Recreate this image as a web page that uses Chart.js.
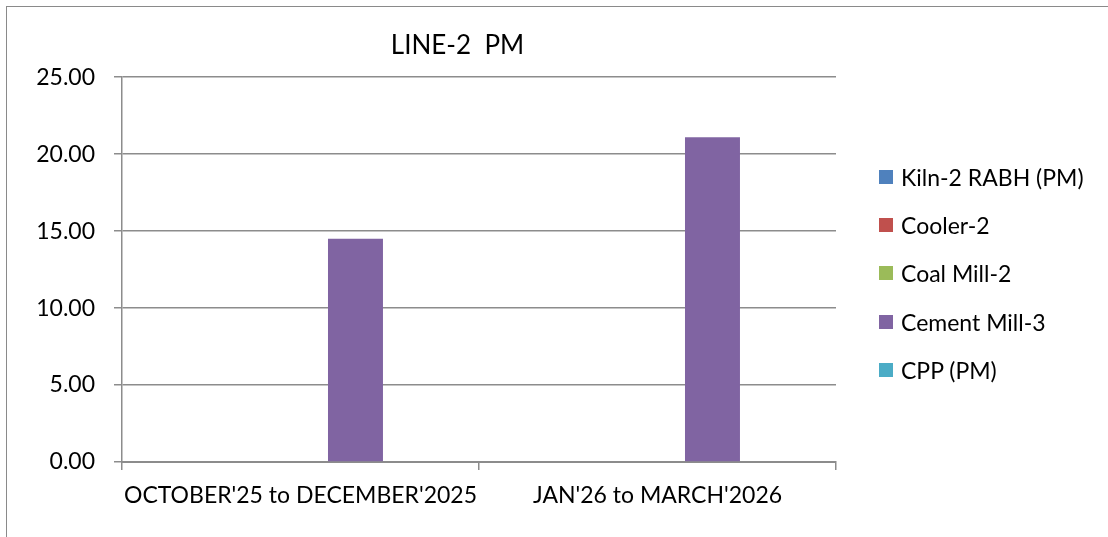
<!DOCTYPE html>
<html lang="en">
<head>
    <meta charset="UTF-8">
    <title>LINE-2 PM</title>
    <script src="https://cdn.jsdelivr.net/npm/chart.js"></script>
    <style>
        body { margin: 0; background: #fff; font-family: Lato, sans-serif; }
        #frame { position: absolute; left: 6px; top: 6px; width: 1120px; height: 560px; border-top: 1.5px solid #8a8a8a; border-left: 1.5px solid #8a8a8a; }
        #wrap { position: absolute; left: 0; top: 0; width: 915px; height: 537px; }
        #legend { position: absolute; left: 879px; top: 0; font-size: 23px; color: #000; }
        .item { position: absolute; left: 0; white-space: nowrap; display: flex; align-items: center; height: 26px; }
        .box { width: 14px; height: 14px; margin-right: 8px; }
    </style>
</head>
<body>
    <div id="frame"></div>
    <div id="wrap"><canvas id="chart"></canvas></div>
    <div id="legend"></div>

    <script>
        // data
        const categories = ["OCTOBER'25 to DECEMBER'2025", "JAN'26 to MARCH'2026"];
        const seriesNames = ['Kiln-2 RABH (PM)', 'Cooler-2', 'Coal Mill-2', 'Cement Mill-3', 'CPP (PM)'];
        const kiln2 = [null, null];
        const cooler2 = [null, null];
        const coalMill2 = [null, null];
        const cementMill3 = [14.5, 21.1];
        const cpp = [null, null];
        const yTicks = [0, 5, 10, 15, 20, 25];

        const colors = ['#4F81BD', '#C0504D', '#9BBB59', '#8064A2', '#4BACC6'];
        const values = [kiln2, cooler2, coalMill2, cementMill3, cpp];
        const gridColor = '#8c8c8c';

        const datasets = seriesNames.map((name, i) => ({
            label: name,
            data: values[i],
            backgroundColor: colors[i],
            borderWidth: 0,
            categoryPercentage: 0.77,
            barPercentage: 1
        }));

        Chart.defaults.font.family = 'Lato, sans-serif';
        Chart.defaults.color = '#000';

        new Chart(document.getElementById('chart'), {
            type: 'bar',
            data: { labels: categories, datasets: datasets },
            options: {
                responsive: true,
                maintainAspectRatio: false,
                animation: false,
                layout: { padding: { top: 30, right: 0, left: 0, bottom: 0 } },
                plugins: {
                    legend: { display: false },
                    tooltip: { enabled: false },
                    title: {
                        display: true,
                        text: 'LINE-2  PM',
                        font: { size: 26, weight: 'normal' },
                        color: '#000',
                        padding: { top: 0, bottom: 16 }
                    }
                },
                scales: {
                    x: {
                        grid: { offset: true, drawOnChartArea: false, drawTicks: true, tickLength: 8, color: gridColor, lineWidth: 1.5 },
                        border: { color: gridColor, width: 2 },
                        ticks: { font: { size: 23 }, padding: 12, maxRotation: 0 },
                        afterFit: s => { s.height = 75; }
                    },
                    y: {
                        min: 0,
                        max: 25,
                        afterBuildTicks: s => { s.ticks = yTicks.map(v => ({ value: v })); },
                        grid: { color: gridColor, lineWidth: 1.5, tickLength: 8 },
                        border: { color: gridColor, width: 1.5 },
                        ticks: { font: { size: 23 }, padding: 19, callback: v => v.toFixed(2) },
                        afterFit: s => { s.width = 122; }
                    },
                    // empty right-hand spacer so the title centres over the full frame
                    spacer: {
                        type: 'linear',
                        position: 'right',
                        grid: { display: false },
                        border: { display: false },
                        ticks: { display: false },
                        afterFit: s => { s.width = 79; }
                    }
                }
            }
        });

        // legend on the right
        const tops = [177, 225, 273, 322, 370];
        const legend = document.getElementById('legend');
        seriesNames.forEach((name, i) => {
            const el = document.createElement('div');
            el.className = 'item';
            el.style.top = (tops[i] - 13) + 'px';
            el.innerHTML = '<span class="box" style="background:' + colors[i] + '"></span>' + name;
            legend.appendChild(el);
        });
    </script>
</body>
</html>
